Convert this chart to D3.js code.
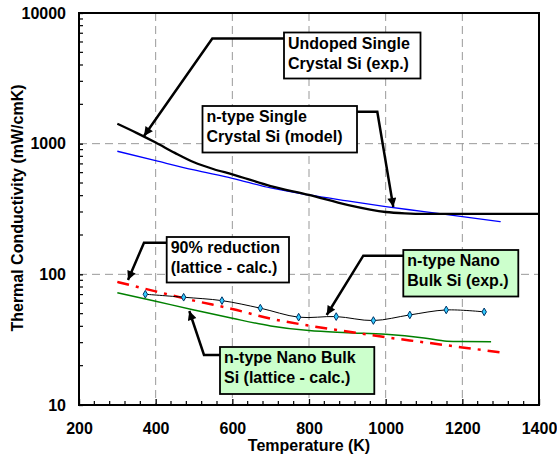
<!DOCTYPE html>
<html>
<head>
<meta charset="utf-8">
<script src="https://cdn.jsdelivr.net/npm/d3@7"></script>
<style>
  html, body { margin: 0; padding: 0; background: #fff; }
  svg { display: block; }
  text { font-family: Arial, "Liberation Sans", sans-serif; font-weight: bold; fill: #000; }
</style>
</head>
<body>
<svg id="chart" width="557" height="458"></svg>
<script>
// ---- data ----
const xTickLabels = [200, 400, 600, 800, 1000, 1200, 1400];
const yTickLabels = [10, 100, 1000, 10000];

// Undoped single crystal Si (exp.)
const undopedT = [300, 350, 400, 450, 500, 550, 600, 700, 800, 900, 1000, 1050, 1100, 1200, 1300, 1400];
const undopedK = [1420, 1210, 1020, 850, 720, 640, 583, 474, 405, 340, 300, 293, 290, 290, 290, 290];

// n-type single crystal Si (model)
const modelT = [300, 400, 500, 600, 700, 800, 900, 1000, 1100, 1200, 1300];
const modelK = [875, 741, 629, 543, 458, 405, 365, 330, 302, 276, 253];

// 90% reduction (lattice - calc.)
const reducedT = [300, 400, 500, 600, 700, 800, 900, 1000, 1100, 1200, 1300];
const reducedK = [87.5, 74.1, 62.9, 54.3, 45.8, 40.5, 36.5, 33.0, 30.2, 27.6, 25.3];

// n-type nano bulk Si (lattice - calc.)
const latticeT = [300, 400, 500, 600, 700, 800, 900, 1000, 1100, 1160, 1200, 1275];
const latticeK = [72.4, 62.2, 53.4, 46.1, 40.3, 37.1, 35.8, 34.8, 32.6, 30.8, 30.6, 30.5];

// n-type nano bulk Si (exp.)
const expT = [373, 473, 573, 673, 773, 871, 968, 1063, 1158, 1257];
const expK = [70.4, 66.8, 62.9, 55.1, 47.0, 47.5, 44.3, 48.9, 53.4, 51.6];

// ---- layout ----
const W = 557, H = 458;
const m = { left: 79, top: 13, right: 18, bottom: 53 };
const x = d3.scaleLinear().domain([200, 1400]).range([m.left, W - m.right]);
const y = d3.scaleLog().domain([10, 10000]).range([H - m.bottom, m.top]);
const svg = d3.select("#chart");
svg.append("rect").attr("width", W).attr("height", H).attr("fill", "#fff");

const zip = (a, b) => a.map((v, i) => [v, b[i]]);

// grid
const grid = svg.append("g").attr("stroke", "#999").attr("stroke-width", 1).attr("stroke-dasharray", "8,5");
[400, 600, 800, 1000, 1200].forEach(t => grid.append("line")
  .attr("x1", x(t)).attr("x2", x(t)).attr("y1", y(10000)).attr("y2", y(10)));
[100, 1000].forEach(v => grid.append("line")
  .attr("x1", x(200)).attr("x2", x(1400)).attr("y1", y(v)).attr("y2", y(v)));

const line = (curve) => d3.line().x(d => x(d[0])).y(d => y(d[1])).curve(curve);

// series
svg.append("path").datum(zip(latticeT, latticeK)).attr("d", line(d3.curveMonotoneX))
  .attr("fill", "none").attr("stroke", "#008000").attr("stroke-width", 1.5);
svg.append("path").datum(zip(reducedT, reducedK)).attr("d", line(d3.curveMonotoneX))
  .attr("fill", "none").attr("stroke", "#ff0000").attr("stroke-width", 2.5).attr("stroke-dasharray", "12,7,3,7");
svg.append("path").datum(zip(modelT, modelK)).attr("d", line(d3.curveMonotoneX))
  .attr("fill", "none").attr("stroke", "#0000ff").attr("stroke-width", 1.3);
svg.append("path").datum(zip(undopedT, undopedK)).attr("d", line(d3.curveMonotoneX))
  .attr("fill", "none").attr("stroke", "#000").attr("stroke-width", 2.3);
svg.append("path").datum(zip(expT, expK)).attr("d", line(d3.curveCatmullRom))
  .attr("fill", "none").attr("stroke", "#000").attr("stroke-width", 1);
svg.append("g").selectAll("path").data(zip(expT, expK)).join("path")
  .attr("d", d3.symbol(d3.symbolDiamond, 17)())
  .attr("transform", d => `translate(${x(d[0])},${y(d[1])})`)
  .attr("fill", "#33ccff").attr("stroke", "#003366").attr("stroke-width", 1);

// axes
const xAxis = d3.axisBottom(x).tickValues(xTickLabels).tickSize(-6).tickPadding(18).tickFormat(d3.format("d"));
const gx = svg.append("g").attr("transform", `translate(0,${y(10)})`).call(xAxis);
const yAxis = d3.axisLeft(y).tickValues(yTickLabels).tickSize(-4).tickPadding(13).tickFormat(d3.format("d"));
const gy = svg.append("g").attr("transform", `translate(${x(200)},0)`).call(yAxis);
[gx, gy].forEach(g => {
  g.select(".domain").remove();
  g.selectAll(".tick line").attr("stroke", "#000").attr("stroke-width", 1.3);
  g.selectAll("text").style("font-size", "16px").style("font-family", "Arial, 'Liberation Sans', sans-serif").style("font-weight", "bold").attr("fill", "#000");
});
// minor ticks
const minorX = d3.range(240, 1400, 40).filter(t => t % 200 !== 0);
svg.append("g").selectAll("line").data(minorX).join("line")
  .attr("x1", d => x(d)).attr("x2", d => x(d)).attr("y1", y(10)).attr("y2", y(10) - 4)
  .attr("stroke", "#000").attr("stroke-width", 1.2);
const minorY = [];
[10, 100, 1000].forEach(b => d3.range(2, 10).forEach(k => minorY.push(b * k)));
svg.append("g").selectAll("line").data(minorY).join("line")
  .attr("x1", x(200)).attr("x2", x(200) + 4).attr("y1", d => y(d)).attr("y2", d => y(d))
  .attr("stroke", "#000").attr("stroke-width", 1.2);

// frame
svg.append("rect").attr("x", x(200)).attr("y", y(10000)).attr("width", x(1400) - x(200)).attr("height", y(10) - y(10000))
  .attr("fill", "none").attr("stroke", "#000").attr("stroke-width", 2);

// axis titles
svg.append("text").attr("x", (x(200) + x(1400)) / 2).attr("y", 451).attr("text-anchor", "middle")
  .style("font-size", "16px").text("Temperature (K)");
svg.append("text").attr("transform", `translate(23,208) rotate(-90)`).attr("text-anchor", "middle")
  .style("font-size", "16px").text("Thermal Conductivity (mW/cmK)");

// annotations (pixel layout)
const defs = svg.append("defs");
defs.append("marker").attr("id", "ah").attr("viewBox", "0 0 10 10").attr("refX", 10).attr("refY", 5)
  .attr("markerWidth", 11).attr("markerHeight", 9).attr("markerUnits", "userSpaceOnUse").attr("orient", "auto")
  .append("path").attr("d", "M0,0 L10,5 L0,10 Z").attr("fill", "#000");

const notes = [
  { lines: ["Undoped Single", "Crystal Si (exp.)"], box: [284, 32.5, 136.5, 46], fill: "#fff",
    arrow: [[284, 38.5], [212.3, 38.5], [144, 136]] },
  { lines: ["n-type Single", "Crystal Si (model)"], box: [202.5, 106, 154.5, 46.5], fill: "#fff",
    arrow: [[356.7, 111.7], [377.3, 111.7], [393.3, 207]] },
  { lines: ["90% reduction", "(lattice - calc.)"], box: [166.7, 237, 122.3, 45.5], fill: "#fff",
    arrow: [[166.7, 242.7], [144, 242.7], [128, 280]] },
  { lines: ["n-type Nano", "Bulk Si (exp.)"], box: [403.3, 250, 115, 46.5], fill: "#ccffcc",
    arrow: [[403.3, 255.7], [363.3, 255.7], [326.7, 315]] },
  { lines: ["n-type Nano Bulk", "Si (lattice - calc.)"], box: [220, 347, 154.3, 47], fill: "#ccffcc",
    arrow: [[220, 355], [204, 355], [189.3, 311]] }
];
notes.forEach(n => {
  svg.append("path").attr("d", d3.line()(n.arrow)).attr("fill", "none").attr("stroke", "#000")
    .attr("stroke-width", 2.5).attr("marker-end", "url(#ah)");
  svg.append("rect").attr("x", n.box[0]).attr("y", n.box[1]).attr("width", n.box[2]).attr("height", n.box[3])
    .attr("fill", n.fill).attr("stroke", "#000").attr("stroke-width", 1.8);
  n.lines.forEach((t, i) => svg.append("text").attr("x", n.box[0] + 4).attr("y", n.box[1] + 16.3 + i * 20)
    .style("font-size", "16px").text(t));
});
</script>
</body>
</html>
